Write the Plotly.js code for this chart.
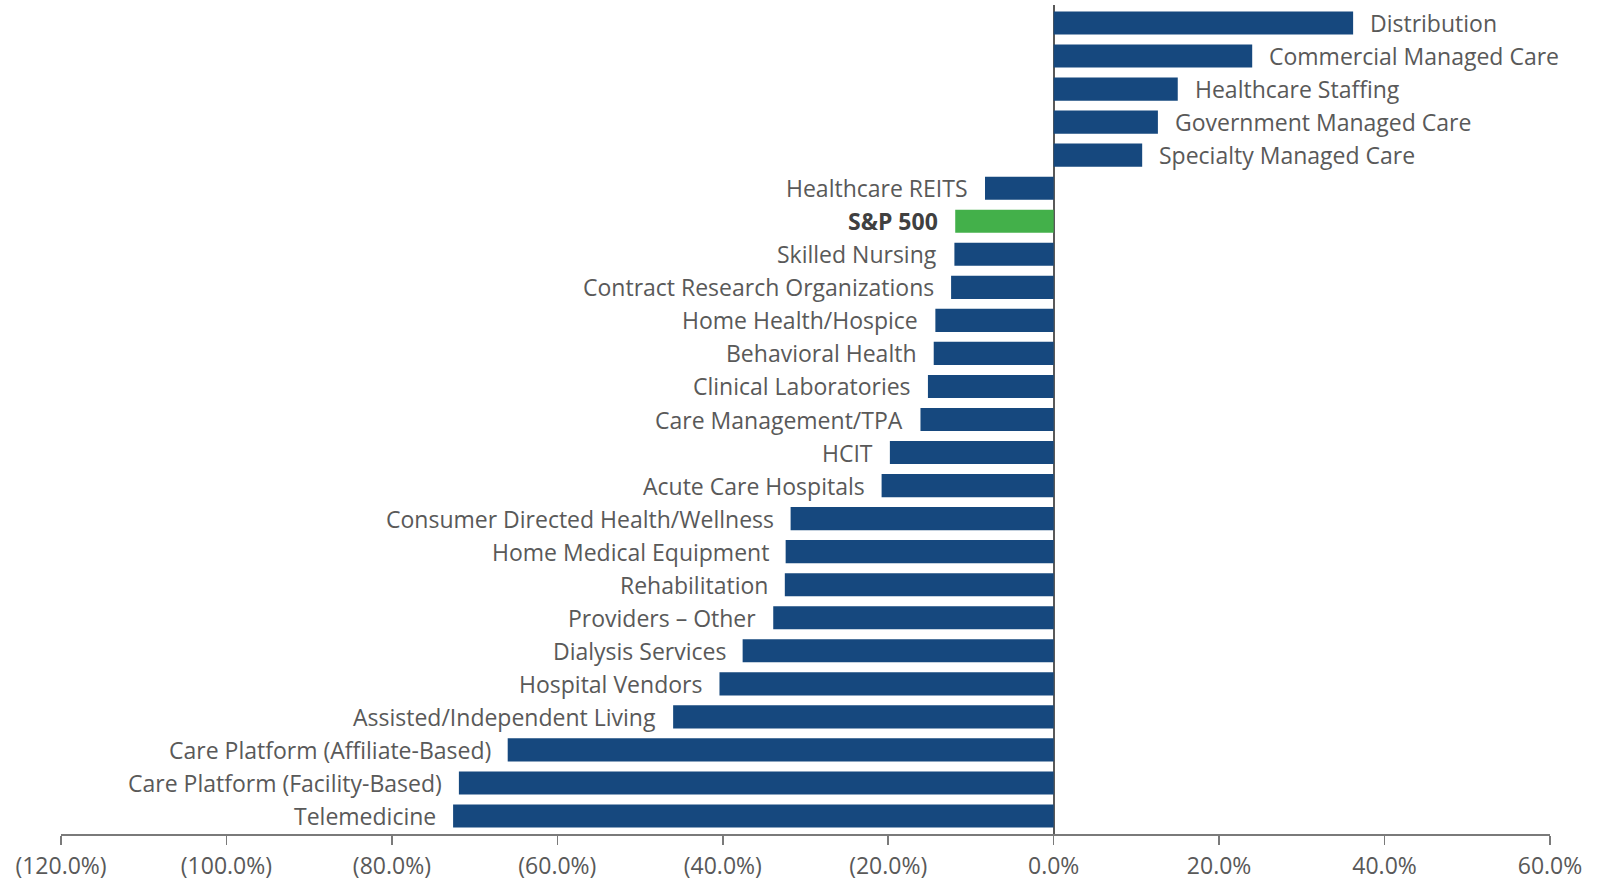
<!DOCTYPE html>
<html>
<head>
<meta charset="utf-8">
<script src="https://cdn.plot.ly/plotly-3.0.1.min.js"></script>
<style>
html,body{margin:0;padding:0;background:#fff;}
#chart{width:1598px;height:882px;}
</style>
</head>
<body>
<div id="chart"></div>
<script>
const categories = [
  "Distribution",
  "Commercial Managed Care",
  "Healthcare Staffing",
  "Government Managed Care",
  "Specialty Managed Care",
  "Healthcare REITS",
  "S&P 500",
  "Skilled Nursing",
  "Contract Research Organizations",
  "Home Health/Hospice",
  "Behavioral Health",
  "Clinical Laboratories",
  "Care Management/TPA",
  "HCIT",
  "Acute Care Hospitals",
  "Consumer Directed Health/Wellness",
  "Home Medical Equipment",
  "Rehabilitation",
  "Providers – Other",
  "Dialysis Services",
  "Hospital Vendors",
  "Assisted/Independent Living",
  "Care Platform (Affiliate-Based)",
  "Care Platform (Facility-Based)",
  "Telemedicine"
];
const returns = [
  36.2, 24.0, 15.0, 12.6, 10.7,
  -8.3, -11.9, -12.0, -12.4, -14.3,
  -14.5, -15.2, -16.1, -19.8, -20.8,
  -31.8, -32.4, -32.5, -33.9, -37.6,
  -40.4, -46.0, -66.0, -71.9, -72.6
];
const highlight = "S&P 500";
const tickVals = [-120, -100, -80, -60, -40, -20, 0, 20, 40, 60];
const tickLabels = ["(120.0%)", "(100.0%)", "(80.0%)", "(60.0%)", "(40.0%)", "(20.0%)", "0.0%", "20.0%", "40.0%", "60.0%"];

const NAVY = "#16487e";
const GREEN = "#43b04a";
const TEXT = "#595959";
const FONT = "'Open Sans', Lato, sans-serif";

const colors = categories.map(c => c === highlight ? GREEN : NAVY);

const trace = {
  type: "bar",
  orientation: "h",
  x: returns,
  y: categories,
  marker: {color: colors, line: {width: 0}},
  hoverinfo: "skip"
};

const annotations = categories.map((c, i) => {
  const v = returns[i];
  const neg = v < 0;
  return {
    x: v,
    y: c,
    xref: "x",
    yref: "y",
    text: c === highlight ? "<b>" + c + "</b>" : c,
    showarrow: false,
    xanchor: neg ? "right" : "left",
    yanchor: "middle",
    xshift: neg ? -15 : 15,
    font: {family: FONT, size: 23, color: c === highlight ? "#404040" : TEXT}
  };
});

const layout = {
  width: 1598,
  height: 882,
  margin: {l: 61, r: 48, t: 5, b: 48},
  paper_bgcolor: "#fff",
  plot_bgcolor: "#fff",
  showlegend: false,
  bargap: 0.3,
  font: {family: FONT, size: 23, color: TEXT},
  xaxis: {
    range: [-120, 60],
    tickvals: tickVals,
    ticktext: tickLabels,
    ticks: "outside",
    ticklen: 9,
    tickwidth: 1.5,
    tickcolor: "#7a7a7a",
    ticklabelstandoff: 2,
    showline: true,
    linecolor: "#7a7a7a",
    linewidth: 1.5,
    showgrid: false,
    zeroline: true,
    zerolinecolor: "#595959",
    zerolinewidth: 2,
    tickfont: {family: FONT, size: 23, color: TEXT},
    fixedrange: true
  },
  yaxis: {
    type: "category",
    autorange: "reversed",
    showticklabels: false,
    showgrid: false,
    zeroline: false,
    showline: false,
    ticks: "",
    fixedrange: true
  },
  annotations: annotations
};

Plotly.newPlot("chart", [trace], layout, {displayModeBar: false, staticPlot: true});
</script>
</body>
</html>
